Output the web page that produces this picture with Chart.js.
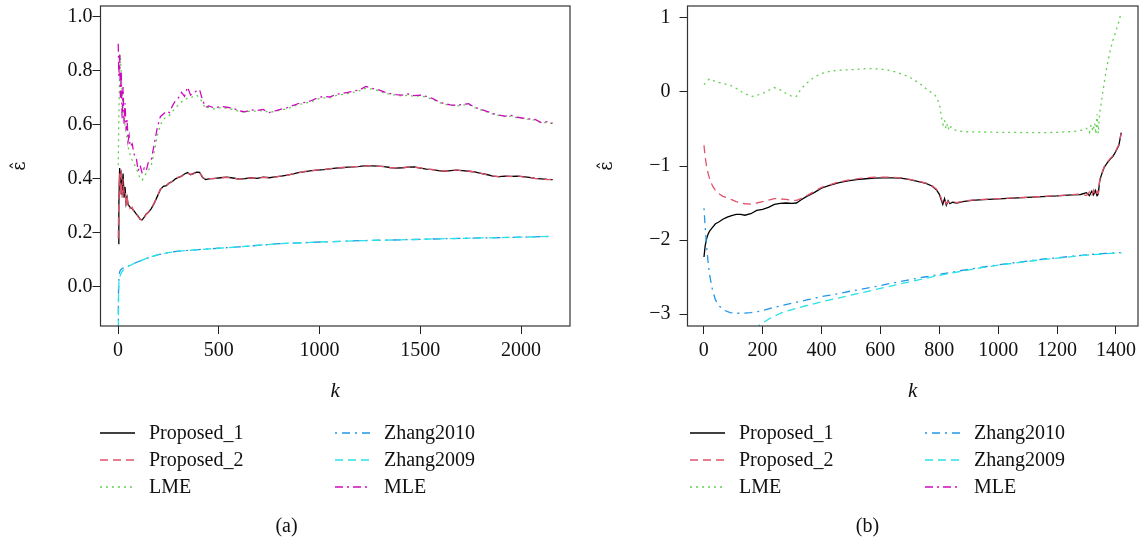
<!DOCTYPE html>
<html>
<head>
<meta charset="utf-8">
<script src="https://cdn.jsdelivr.net/npm/chart.js@4"></script>
<style>
  html, body { margin: 0; padding: 0; background: #fff; }
  #wrap { position: relative; width: 1142px; height: 539px; }
  canvas { position: absolute; top: 0; }
  #chartA { left: 0; }
  #chartB { left: 571px; }
</style>
</head>
<body>
<div id="wrap">
  <canvas id="chartA" width="571" height="539"></canvas>
  <canvas id="chartB" width="571" height="539"></canvas>
</div>
<script>
// series names, same order in both panels
const seriesNames = ['Proposed_1', 'Proposed_2', 'LME', 'Zhang2010', 'Zhang2009', 'MLE'];

// ---- panel (a) ----
const xTicksA = [0, 500, 1000, 1500, 2000];
const yTicksA = [0, 0.2, 0.4, 0.6, 0.8, 1.0];

const kA = [1, 4, 8, 12, 16, 20, 25, 30, 35, 40, 45, 50, 55,
  60, 70, 80, 90, 100, 110, 120, 130, 140, 150,
  165, 180, 195, 210, 225, 240, 255, 270, 285, 300, 315, 330, 345, 360, 375, 390, 405, 420, 435, 450,
  480, 510, 540, 570, 600, 630, 660, 690, 720, 750, 780, 810, 840, 870, 900, 930, 960, 990, 1020, 1050,
  1080, 1110, 1140, 1170, 1200, 1230, 1260, 1290, 1320, 1350, 1380, 1410, 1440, 1470, 1500, 1530, 1560, 1590,
  1620, 1650, 1680, 1710, 1740, 1770, 1800, 1830, 1860, 1890, 1920, 1950, 1980, 2010, 2040, 2070, 2100, 2130, 2157];

const prop1A = [0.16, 0.30, 0.44, 0.36, 0.43, 0.34, 0.42, 0.33, 0.37, 0.31, 0.33, 0.305, 0.30,
  0.295, 0.29, 0.28, 0.27, 0.262, 0.25, 0.248, 0.258, 0.27, 0.275,
  0.29, 0.31, 0.335, 0.36, 0.372, 0.375, 0.385, 0.39, 0.40, 0.405, 0.41, 0.418, 0.423, 0.415, 0.42, 0.425, 0.424, 0.405, 0.397, 0.40,
  0.402, 0.404, 0.406, 0.403, 0.399, 0.401, 0.404, 0.402, 0.406, 0.404,
  0.407, 0.41, 0.414, 0.418, 0.424, 0.427, 0.43, 0.432, 0.434, 0.437,
  0.44, 0.441, 0.443, 0.444, 0.446, 0.449, 0.448, 0.447, 0.445, 0.442,
  0.44, 0.441, 0.443, 0.444, 0.44, 0.436, 0.434, 0.43, 0.428, 0.43,
  0.432, 0.43, 0.428, 0.426, 0.42, 0.416, 0.41, 0.408, 0.41, 0.409,
  0.41, 0.408, 0.405, 0.402, 0.40, 0.398, 0.397];

const prop2A = [0.18, 0.33, 0.42, 0.34, 0.44, 0.33, 0.40, 0.35, 0.36, 0.30, 0.34, 0.30, 0.305,
  0.29, 0.295, 0.275, 0.272, 0.258, 0.252, 0.245, 0.26, 0.268, 0.277,
  0.288, 0.312, 0.333, 0.362, 0.37, 0.377, 0.383, 0.392, 0.398, 0.407, 0.408, 0.42, 0.421, 0.417, 0.418, 0.427, 0.422, 0.407, 0.395, 0.401,
  0.401, 0.405, 0.405, 0.404, 0.398, 0.402, 0.403, 0.403, 0.405, 0.405,
  0.406, 0.411, 0.413, 0.419, 0.423, 0.428, 0.429, 0.433, 0.433, 0.438,
  0.439, 0.442, 0.442, 0.445, 0.445, 0.448, 0.449, 0.446, 0.446, 0.441,
  0.441, 0.44, 0.444, 0.443, 0.441, 0.435, 0.435, 0.429, 0.429, 0.429,
  0.433, 0.429, 0.429, 0.425, 0.421, 0.415, 0.411, 0.407, 0.411, 0.408,
  0.411, 0.407, 0.406, 0.401, 0.401, 0.397, 0.398];

const lmeA = [0.45, 0.62, 0.80, 0.86, 0.78, 0.72, 0.66, 0.64, 0.60, 0.57, 0.55, 0.52, 0.50,
  0.49, 0.47, 0.455, 0.44, 0.42, 0.40, 0.395, 0.41, 0.42, 0.43,
  0.45, 0.50, 0.56, 0.60, 0.62, 0.63, 0.635, 0.65, 0.66, 0.675, 0.685, 0.69, 0.70, 0.70, 0.705, 0.71, 0.70, 0.68, 0.66, 0.665,
  0.658, 0.664, 0.661, 0.657, 0.65, 0.646, 0.652, 0.65, 0.653, 0.646,
  0.65, 0.655, 0.66, 0.668, 0.676, 0.68, 0.686, 0.695, 0.70, 0.70,
  0.708, 0.712, 0.716, 0.721, 0.727, 0.735, 0.732, 0.727, 0.719, 0.713,
  0.709, 0.707, 0.71, 0.705, 0.707, 0.702, 0.695, 0.684, 0.676, 0.672,
  0.67, 0.673, 0.675, 0.664, 0.655, 0.648, 0.64, 0.634, 0.63, 0.632,
  0.626, 0.623, 0.62, 0.617, 0.607, 0.609, 0.604];

const mleA = [0.90, 0.78, 0.86, 0.70, 0.80, 0.62, 0.74, 0.60, 0.68, 0.58, 0.62, 0.54, 0.56,
  0.52, 0.53, 0.49, 0.48, 0.43, 0.45, 0.42, 0.44, 0.43, 0.46,
  0.47, 0.53, 0.59, 0.63, 0.64, 0.65, 0.645, 0.67, 0.69, 0.70, 0.72, 0.705, 0.74, 0.71, 0.72, 0.725, 0.73, 0.69, 0.665, 0.67,
  0.662, 0.668, 0.665, 0.662, 0.652, 0.648, 0.656, 0.653, 0.657, 0.645,
  0.652, 0.658, 0.664, 0.672, 0.68, 0.683, 0.69, 0.70, 0.705, 0.703,
  0.712, 0.716, 0.72, 0.725, 0.73, 0.742, 0.735, 0.73, 0.722, 0.716,
  0.712, 0.71, 0.714, 0.708, 0.71, 0.705, 0.698, 0.686, 0.678, 0.674,
  0.672, 0.676, 0.678, 0.665, 0.657, 0.65, 0.642, 0.636, 0.632, 0.635,
  0.628, 0.625, 0.622, 0.62, 0.608, 0.612, 0.606];

const kZA = [1, 2, 3, 5, 8, 12, 20, 30, 45, 60, 80, 100, 130, 160, 200, 250, 300, 400, 500, 600,
  800, 1000, 1200, 1400, 1600, 1800, 2000, 2157];
const zhang2010A = [-0.2, -0.05, 0.01, 0.04, 0.055, 0.062, 0.068, 0.071, 0.076, 0.080, 0.087, 0.093, 0.102, 0.111,
  0.119, 0.127, 0.132, 0.138, 0.143, 0.148, 0.16, 0.166, 0.171, 0.174, 0.178, 0.181, 0.184, 0.187];
const zhang2009A = [-0.25, -0.08, -0.01, 0.02, 0.035, 0.045, 0.057, 0.066, 0.074, 0.079, 0.087, 0.093, 0.102, 0.111,
  0.119, 0.127, 0.132, 0.138, 0.143, 0.148, 0.16, 0.166, 0.171, 0.174, 0.178, 0.181, 0.184, 0.187];

// ---- panel (b) ----
const xTicksB = [0, 200, 400, 600, 800, 1000, 1200, 1400];
const yTicksB = [-3, -2, -1, 0, 1];

const kB = [1, 5, 10, 15, 20, 30, 40, 50, 65, 80, 95, 110, 125, 140, 160, 180, 200, 220, 240, 260,
  280, 300, 315, 330, 350, 375, 400, 430, 460, 490, 520, 550, 580, 610, 640, 670, 700, 730, 755, 775,
  790, 800, 806, 812, 818, 824, 830, 836, 845, 860, 880, 910, 950, 1000, 1050, 1100, 1150, 1200, 1250, 1280,
  1300, 1310, 1318, 1324, 1330, 1336, 1340, 1345, 1350, 1360, 1370, 1380, 1390, 1400, 1410, 1418];

const prop1B = [-2.23, -2.08, -1.98, -1.92, -1.88, -1.83, -1.78, -1.76, -1.72, -1.69,
  -1.67, -1.655, -1.655, -1.665, -1.645, -1.60, -1.585, -1.56, -1.52, -1.505,
  -1.50, -1.505, -1.50, -1.46, -1.41, -1.36, -1.30, -1.26, -1.225, -1.20,
  -1.185, -1.172, -1.165, -1.16, -1.16, -1.165, -1.185, -1.21, -1.235, -1.27,
  -1.32, -1.38, -1.45, -1.52, -1.44, -1.53, -1.47, -1.51, -1.49, -1.50,
  -1.48, -1.465, -1.455, -1.445, -1.435, -1.425, -1.415, -1.405, -1.39, -1.385,
  -1.36, -1.40, -1.34, -1.39, -1.33, -1.40, -1.38, -1.20, -1.13, -1.02,
  -0.96, -0.91, -0.87, -0.80, -0.72, -0.55];

const prop2B = [-0.72, -0.88, -1.01, -1.10, -1.17, -1.27, -1.33, -1.37, -1.41, -1.43,
  -1.455, -1.48, -1.50, -1.51, -1.515, -1.50, -1.48, -1.46, -1.44, -1.445,
  -1.45, -1.465, -1.465, -1.44, -1.40, -1.345, -1.29, -1.25, -1.215, -1.19,
  -1.175, -1.16, -1.152, -1.15, -1.152, -1.16, -1.18, -1.205, -1.23, -1.265,
  -1.31, -1.37, -1.43, -1.50, -1.46, -1.51, -1.48, -1.50, -1.485, -1.495,
  -1.478, -1.462, -1.452, -1.442, -1.432, -1.422, -1.412, -1.40, -1.388, -1.38,
  -1.40, -1.35, -1.41, -1.33, -1.40, -1.34, -1.37, -1.19, -1.12, -1.01,
  -0.95, -0.90, -0.86, -0.79, -0.71, -0.56];

const kLmeB = [1, 10, 20, 35, 50, 70, 90, 110, 130, 150, 165, 180, 200, 220, 240, 260, 280, 300, 315, 330,
  350, 375, 400, 430, 460, 490, 520, 550, 580, 610, 640, 670, 700, 730, 760, 785, 795, 803, 808, 813,
  818, 823, 828, 833, 840, 850, 870, 900, 950, 1000, 1050, 1100, 1150, 1200, 1250, 1280, 1300, 1310, 1316, 1322,
  1328, 1332, 1336, 1340, 1345, 1350, 1360, 1370, 1380, 1390, 1400, 1410, 1418];
const lmeB = [0.10, 0.14, 0.18, 0.15, 0.13, 0.11, 0.09, 0.05, 0.00, -0.04,
  -0.06, -0.045, -0.02, 0.02, 0.06, 0.03, -0.02, -0.06, -0.06, 0.04,
  0.12, 0.20, 0.25, 0.28, 0.295, 0.30, 0.305, 0.315, 0.315, 0.305,
  0.285, 0.245, 0.20, 0.125, 0.03, -0.04, -0.11, -0.21, -0.35, -0.44,
  -0.38, -0.50, -0.43, -0.52, -0.47, -0.51, -0.53, -0.54, -0.54, -0.545,
  -0.545, -0.55, -0.55, -0.545, -0.535, -0.52, -0.49, -0.55, -0.44, -0.53,
  -0.42, -0.57, -0.30, -0.56, -0.28, -0.15, 0.12, 0.36, 0.55, 0.70,
  0.82, 0.95, 1.08];

const kZB = [1, 5, 10, 15, 20, 30, 40, 55, 70, 90, 110, 135, 160, 190, 220, 260, 300, 350, 400, 450,
  500, 550, 600, 650, 700, 750, 800, 850, 900, 950, 1000, 1050, 1100, 1150, 1200, 1250, 1300, 1350, 1418];
const zhang2010B = [-1.57, -1.82, -2.09, -2.30, -2.47, -2.68, -2.81, -2.90, -2.95, -2.98,
  -2.99, -2.99, -2.98, -2.965, -2.93, -2.89, -2.855, -2.81, -2.765, -2.73,
  -2.69, -2.655, -2.615, -2.575, -2.535, -2.50, -2.465, -2.43, -2.395, -2.365,
  -2.335, -2.31, -2.285, -2.26, -2.24, -2.22, -2.20, -2.185, -2.17];
const zhang2009B = [-8.0, -6.5, -5.8, -5.3, -5.0, -4.6, -4.35, -4.1, -3.9, -3.7,
  -3.55, -3.40, -3.28, -3.15, -3.07, -2.99, -2.94, -2.885, -2.835, -2.79,
  -2.745, -2.70, -2.655, -2.61, -2.565, -2.52, -2.48, -2.44, -2.405, -2.37,
  -2.34, -2.315, -2.29, -2.265, -2.245, -2.225, -2.205, -2.19, -2.17];
const kMleB = [];
const mleB = [];

// line looks (R palette)
const lineStyles = [
  { color: '#000000', dash: [] },
  { color: '#DF536B', dash: [8, 5] },
  { color: '#61D04F', dash: [2, 4] },
  { color: '#2297E6', dash: [2, 5, 8, 5] },
  { color: '#28E2E5', dash: [8, 5] },
  { color: '#CD0BBC', dash: [8, 4, 2, 4] },
];

const FONT = '"Liberation Serif", "Times New Roman", serif';

function decorPlugin(cfg) {
  return {
    id: 'decor',
    afterDraw(chart) {
      const { ctx, chartArea: a } = chart;
      ctx.save();
      // plot box
      ctx.setLineDash([]);
      ctx.strokeStyle = '#333';
      ctx.lineWidth = 1.2;
      ctx.strokeRect(a.left, a.top, a.right - a.left, a.bottom - a.top);
      // legend, two columns of three
      ctx.font = '20px ' + FONT;
      ctx.fillStyle = '#111';
      ctx.textAlign = 'left';
      ctx.textBaseline = 'alphabetic';
      chart.data.datasets.forEach((ds, i) => {
        const x0 = cfg.legendX[i < 3 ? 0 : 1];
        const ly = cfg.legendY + (i % 3) * 27;
        ctx.strokeStyle = ds.borderColor;
        ctx.lineWidth = 1.5;
        ctx.setLineDash(ds.borderDash);
        ctx.beginPath();
        ctx.moveTo(x0, ly);
        ctx.lineTo(x0 + 35, ly);
        ctx.stroke();
        ctx.fillText(ds.label, x0 + 49, ly + 6);
      });
      ctx.textAlign = 'center';
      ctx.fillText(cfg.caption, cfg.captionX, 532);
      ctx.restore();
    }
  };
}

function makePanel(id, cfg) {
  const ctx = document.getElementById(id).getContext('2d');
  const datasets = cfg.series.map((s, i) => ({
    label: seriesNames[i],
    data: s.k.map((k, j) => ({ x: k, y: s.v[j] })),
    borderColor: lineStyles[i].color,
    borderDash: lineStyles[i].dash,
    borderWidth: 1.3,
    pointRadius: 0,
    fill: false,
    tension: 0,
    order: -i, // later series painted on top, as in the original
  }));

  return new Chart(ctx, {
    type: 'line',
    data: { datasets: datasets },
    options: {
      responsive: false,
      animation: false,
      events: [],
      layout: { padding: { left: 0, right: cfg.padRight, top: 6, bottom: 119 } },
      plugins: { legend: { display: false }, tooltip: { enabled: false } },
      scales: {
        x: {
          type: 'linear',
          min: cfg.xMin,
          max: cfg.xMax,
          afterBuildTicks: sc => { sc.ticks = cfg.xTicks.map(v => ({ value: v })); },
          afterFit: sc => { sc.height = 94; sc.paddingLeft = 0; sc.paddingRight = 0; },
          ticks: {
            font: { family: FONT, size: 20 }, color: '#111', padding: 5,
            maxRotation: 0, autoSkip: false, callback: v => String(v)
          },
          grid: { drawOnChartArea: false, drawTicks: true, tickLength: 8, color: '#222', lineWidth: 1 },
          border: { display: false },
          title: {
            display: true, text: 'k', color: '#111',
            font: { family: FONT, size: 21, style: 'italic' },
            padding: { top: 0, bottom: 16 }
          }
        },
        y: {
          type: 'linear',
          min: cfg.yMin,
          max: cfg.yMax,
          afterBuildTicks: sc => { sc.ticks = cfg.yTicks.map(v => ({ value: v })); },
          afterFit: sc => { sc.width = cfg.yWidth; sc.paddingTop = 0; sc.paddingBottom = 0; },
          ticks: { font: { family: FONT, size: 20 }, color: '#111', padding: cfg.yTickPad, callback: cfg.yFormat },
          grid: { drawOnChartArea: false, drawTicks: true, tickLength: 8, color: '#222', lineWidth: 1 },
          border: { display: false },
          title: {
            display: true, text: 'ε̂', color: '#111',
            font: { family: '"DejaVu Serif", serif', size: 18 },
            padding: { top: cfg.yTitlePad, bottom: 0 }
          }
        }
      }
    },
    plugins: [decorPlugin(cfg)]
  });
}

makePanel('chartA', {
  series: [
    { k: kA, v: prop1A }, { k: kA, v: prop2A }, { k: kA, v: lmeA },
    { k: kZA, v: zhang2010A }, { k: kZA, v: zhang2009A }, { k: kA, v: mleA }
  ],
  xMin: -87, xMax: 2243, yMin: -0.145, yMax: 1.04,
  xTicks: xTicksA, yTicks: yTicksA,
  yFormat: v => v.toFixed(1),
  yWidth: 100.5, yTickPad: 0, yTitlePad: 10, padRight: 1,
  legendX: [100, 335], legendY: 433, caption: '(a)', captionX: 286.5
});

makePanel('chartB', {
  series: [
    { k: kB, v: prop1B }, { k: kB, v: prop2B }, { k: kLmeB, v: lmeB },
    { k: kZB, v: zhang2010B }, { k: kZB, v: zhang2009B }, { k: kMleB, v: mleB }
  ],
  xMin: -55, xMax: 1475, yMin: -3.162, yMax: 1.162,
  xTicks: xTicksB, yTicks: yTicksB,
  yFormat: v => (v < 0 ? '\u2212' + Math.abs(v) : String(v)),
  yWidth: 116.5, yTickPad: 9, yTitlePad: 26, padRight: 4,
  legendX: [119, 354], legendY: 433, caption: '(b)', captionX: 296.5
});
</script>
</body>
</html>
